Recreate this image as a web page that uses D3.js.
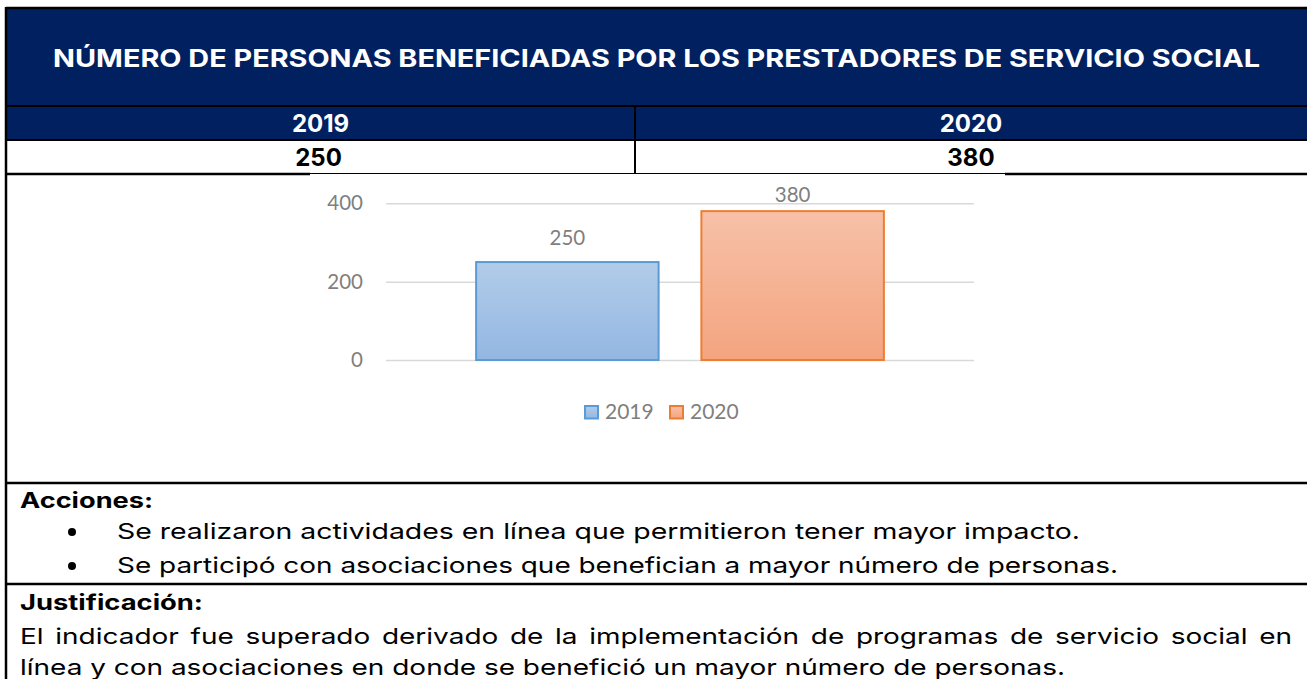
<!DOCTYPE html>
<html>
<head>
<meta charset="utf-8">
<script src="https://cdn.jsdelivr.net/npm/d3@7"></script>
<style>
  body { margin: 0; background: #fff; }
  .head { font-family: Inter, "DejaVu Sans", sans-serif; font-weight: 700; }
  .body { font-family: Inter, "DejaVu Sans", sans-serif; }
  .chart-text { font-family: Lato, "Open Sans", sans-serif; fill: #7f7f7f; }
</style>
</head>
<body>
<script>
// table + chart values
var title = "NÚMERO DE PERSONAS BENEFICIADAS POR LOS PRESTADORES DE SERVICIO SOCIAL";
var years = ["2019", "2020"];
var values = [250, 380];
var yTicks = [0, 200, 400];
var accionesTitle = "Acciones:";
var acciones = [
    "Se realizaron actividades en línea que permitieron tener mayor impacto.",
    "Se participó con asociaciones que benefician a mayor número de personas."
];
var justTitle = "Justificación:";
var justLines = [
    "El indicador fue superado derivado de la implementación de programas de servicio social en",
    "línea y con asociaciones en donde se benefició un mayor número de personas."
];
var seriesColors = [
    {top: "#b2cce9", bottom: "#93b7e2", stroke: "#5b9bd5"},
    {top: "#f7c1a8", bottom: "#f4a47f", stroke: "#ed7d31"}
];

var width = 1307;
var height = 679;
var navy = "#002060";
var left = 6;         // left border of the table
var split = 635;      // divider between the two year columns

var svg = d3.select("body")
            .append("svg")
            .attr("width", width)
            .attr("height", height);

// header blocks
svg.append("rect")
    .attr("x", left).attr("y", 8)
    .attr("width", width - left).attr("height", 132)
    .attr("fill", navy);

svg.append("text")
    .attr("class", "head")
    .attr("x", 53).attr("y", 67)
    .attr("textLength", 1207)
    .attr("lengthAdjust", "spacingAndGlyphs")
    .attr("font-size", 24)
    .attr("fill", "#fff")
    .text(title);

// year row and value row
var cellCenter = [(left + split) / 2, (split + width) / 2];

svg.selectAll(".year")
    .data(years)
    .enter()
    .append("text")
    .attr("class", "head year")
    .attr("x", function(d, i) { return cellCenter[i]; })
    .attr("y", 132)
    .attr("text-anchor", "middle")
    .attr("font-size", 24)
    .attr("fill", "#fff")
    .text(function(d) { return d; });

svg.selectAll(".val")
    .data(values)
    .enter()
    .append("text")
    .attr("class", "head val")
    .attr("x", function(d, i) { return cellCenter[i] - (i == 0 ? 2 : 0); })
    .attr("y", 166)
    .attr("text-anchor", "middle")
    .attr("font-size", 24)
    .attr("fill", "#000")
    .text(function(d) { return d; });

// table rules
function rule(x1, y1, x2, y2, w) {
    svg.append("line")
        .attr("x1", x1).attr("y1", y1)
        .attr("x2", x2).attr("y2", y2)
        .attr("stroke", "#000")
        .attr("stroke-width", w);
}
rule(left, 8, width, 8, 2.5);
rule(left, 106, width, 106, 2);
rule(left, 140, width, 140, 2);
rule(split, 106, split, 174, 2);
rule(left, 174, 310, 174, 2.5);
rule(310, 173.5, 1005, 173.5, 1);
rule(1005, 174, width, 174, 2.5);
rule(left, 483, width, 483, 2.5);
rule(left, 584, width, 584, 2.5);
rule(left, 7, left, height, 2.5);

// ---- bar chart ----
var plot = {left: 386, right: 974, top: 203.3, bottom: 360};

var yScale = d3.scaleLinear()
                .domain([0, 400])
                .range([plot.bottom, plot.top]);

// one category, two series side by side
var xScale = d3.scaleBand()
                .domain(years)
                .range([plot.left, plot.right])
                .paddingInner(0.19)
                .paddingOuter(0.4);

var defs = svg.append("defs");
seriesColors.forEach(function(c, i) {
    var g = defs.append("linearGradient")
                .attr("id", "grad" + i)
                .attr("x1", 0).attr("y1", 0)
                .attr("x2", 0).attr("y2", 1);
    g.append("stop").attr("offset", "0%").attr("stop-color", c.top);
    g.append("stop").attr("offset", "100%").attr("stop-color", c.bottom);
});

// gridlines
var yAxis = d3.axisLeft(yScale)
                .tickValues(yTicks)
                .tickSize(-(plot.right - plot.left))
                .tickPadding(23);

var gAxis = svg.append("g")
    .attr("transform", "translate(" + plot.left + ",0)")
    .call(yAxis);
gAxis.select(".domain").remove();
gAxis.selectAll("line")
    .attr("stroke", "#d9d9d9")
    .attr("stroke-width", 1.5);
gAxis.selectAll("text")
    .attr("class", "chart-text")
    .attr("font-size", 20.5)
    .attr("fill", "#7f7f7f");

// bars
svg.selectAll(".bar")
    .data(values)
    .enter()
    .append("rect")
    .attr("class", "bar")
    .attr("x", function(d, i) { return xScale(years[i]); })
    .attr("y", function(d) { return yScale(d); })
    .attr("width", xScale.bandwidth())
    .attr("height", function(d) { return yScale(0) - yScale(d); })
    .attr("fill", function(d, i) { return "url(#grad" + i + ")"; })
    .attr("stroke", function(d, i) { return seriesColors[i].stroke; })
    .attr("stroke-width", 2);

// data labels, kept inside the chart area like excel does
svg.selectAll(".lbl")
    .data(values)
    .enter()
    .append("text")
    .attr("class", "chart-text lbl")
    .attr("x", function(d, i) { return xScale(years[i]) + xScale.bandwidth() / 2; })
    .attr("y", function(d) { return Math.max(yScale(d) - 17, 201.5); })
    .attr("text-anchor", "middle")
    .attr("font-size", 20.5)
    .text(function(d) { return d; });

// legend
var legendX = [585, 670];
var legend = svg.selectAll(".legend")
    .data(years)
    .enter()
    .append("g")
    .attr("class", "legend")
    .attr("transform", function(d, i) { return "translate(" + legendX[i] + ",406)"; });

legend.append("rect")
    .attr("width", 13).attr("height", 12.5)
    .attr("fill", function(d, i) { return "url(#grad" + i + ")"; })
    .attr("stroke", function(d, i) { return seriesColors[i].stroke; })
    .attr("stroke-width", 2);

legend.append("text")
    .attr("class", "chart-text")
    .attr("x", 20).attr("y", 13)
    .attr("font-size", 21)
    .text(function(d) { return d; });

// ---- actions and justification ----
svg.append("text")
    .attr("class", "head")
    .attr("x", 20).attr("y", 508)
    .attr("font-size", 21)
    .attr("textLength", 133)
    .attr("lengthAdjust", "spacingAndGlyphs")
    .text(accionesTitle);

var actLengths = [963, 1001];
acciones.forEach(function(t, i) {
    var yy = 539 + i * 34;
    svg.append("circle")
        .attr("cx", 72).attr("cy", yy - 7)
        .attr("r", 4)
        .attr("fill", "#000");
    svg.append("text")
        .attr("class", "body")
        .attr("x", 117).attr("y", yy)
        .attr("font-size", 22)
        .attr("textLength", actLengths[i])
        .attr("lengthAdjust", "spacingAndGlyphs")
        .text(t);
});

svg.append("text")
    .attr("class", "head")
    .attr("x", 20).attr("y", 610)
    .attr("font-size", 21)
    .attr("textLength", 183)
    .attr("lengthAdjust", "spacingAndGlyphs")
    .text(justTitle);

// justified paragraph: same glyph stretch as the last line, rest goes to word spacing
var justLengths = [1272, 1045];
var justText = justLines.map(function(t, i) {
    return svg.append("text")
        .attr("class", "body")
        .attr("x", 20).attr("y", 644 + i * 31)
        .attr("font-size", 22)
        .text(t);
});
var stretch = justLengths[1] / justText[1].node().getComputedTextLength();
justText.forEach(function(sel, i) {
    if (i == 0) {
        var natural = sel.node().getComputedTextLength();
        var gaps = justLines[0].split(" ").length - 1;
        sel.attr("word-spacing", (justLengths[0] / stretch - natural) / gaps);
    }
    sel.attr("textLength", justLengths[i])
        .attr("lengthAdjust", "spacingAndGlyphs");
});
</script>
</body>
</html>
